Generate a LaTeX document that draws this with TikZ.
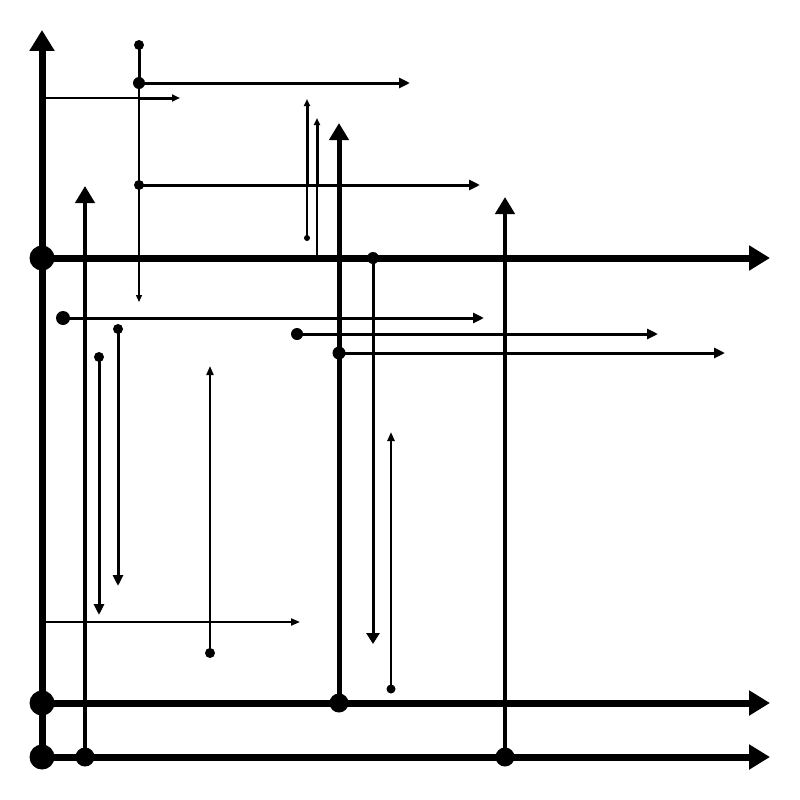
\documentclass[tikz,border=0pt]{standalone}
\usetikzlibrary{arrows.meta}
\begin{document}
\begin{tikzpicture}[x=1pt,y=-1pt,
  big/.style={line width=7pt,-{Triangle[length=21pt,width=24pt]}},
  mid/.style={line width=4.5pt,-{Triangle[length=17pt,width=19pt]}},
  sm/.style={line width=3pt,-{Triangle[length=11pt,width=10pt]}},
  xs/.style={line width=2pt,-{Triangle[length=9pt,width=7pt]}},
  tiny/.style={line width=1.4pt,-{Triangle[length=7pt,width=6pt]}},
  thick3/.style={line width=3pt},
  thinl/.style={line width=1.4pt},
  dot/.style={circle,fill=black,inner sep=0pt,minimum size=#1}]
\useasboundingbox (0,0) rectangle (800,800);
% big axes
\coordinate (ay) at (42,30);
\coordinate (h1e) at (770,258);
\coordinate (h2e) at (770,703);
\coordinate (h3e) at (770,757);
\draw[big] (42,757) coordinate (o) -- (ay);
\draw[big] (42,258) coordinate (h1s) -- (h1e);
\draw[big] (42,703) coordinate (h2s) -- (h2e);
\draw[big] (o) -- (h3e);
\node[dot=25pt] (d1) at (h1s) {};
\node[dot=25pt] (d2) at (h2s) {};
\node[dot=25pt] (d3) at (o) {};
% medium verticals
\node[dot=19pt] (d85) at (85,757) {};
\coordinate (e85) at (85,186);
\draw[mid] (d85.center) -- (e85);
\node[dot=19pt] (d339) at (339,703) {};
\coordinate (e339) at (339,123);
\draw[mid,line width=5pt] (d339.center) -- (e339);
\node[dot=19pt] (d505) at (505,757) {};
\coordinate (e505) at (505,197);
\draw[mid] (d505.center) -- (e505);
% x=139 group
\node[dot=10pt] (t139) at (139,45) {};
\node[dot=12pt] (m139) at (139,83) {};
\coordinate (b139) at (139,302);
\draw[thick3] (t139.center) -- (m139.center);
\draw[tiny] (m139.center) -- (b139);
\coordinate (e83) at (410,83);
\draw[sm] (m139.center) -- (e83);
\node[dot=10pt] (n185) at (139,185) {};
\coordinate (e185) at (480,185);
\draw[sm] (n185.center) -- (e185);
% y=98
\coordinate (s98) at (42,98);
\coordinate (j98) at (139,98);
\coordinate (e98) at (180,98);
\draw[thinl] (s98) -- (j98);
\draw[sm,-{Triangle[length=8pt,width=7pt]}] (j98) -- (e98);
% x=307, 317
\node[dot=6pt] (b307) at (307,238) {};
\coordinate (j307) at (307,185);
\coordinate (e307) at (307,99);
\draw[thinl] (b307.center) -- (j307);
\draw[thick3,-{Triangle[length=7pt,width=6pt]}] (j307) -- (e307);
\coordinate (b317) at (317,258);
\coordinate (j317) at (317,185);
\coordinate (e317) at (317,118);
\draw[thinl] (b317) -- (j317);
\draw[thick3,-{Triangle[length=7pt,width=6pt]}] (j317) -- (e317);
% horizontals mid
\node[dot=14pt] (n318) at (63,318) {};
\coordinate (e318) at (484,318);
\draw[sm] (n318.center) -- (e318);
\node[dot=12pt] (n334) at (297,334) {};
\coordinate (e334) at (658,334);
\draw[sm] (n334.center) -- (e334);
\node[dot=13pt] (n353) at (339,353) {};
\coordinate (e353) at (725,353);
\draw[sm] (n353.center) -- (e353);
% verticals small
\node[dot=12pt] (n373) at (373,258) {};
\coordinate (e373) at (373,644);
\draw[sm,-{Triangle[length=11pt,width=13pt]}] (n373.center) -- (e373);
\node[dot=9pt] (n391) at (391,689) {};
\coordinate (e391) at (391,432);
\draw[xs,line width=2.5pt] (n391.center) -- (e391);
\node[dot=10pt] (n118) at (118,329) {};
\coordinate (e118) at (118,586);
\draw[sm] (n118.center) -- (e118);
\node[dot=10pt] (n99) at (99,357) {};
\coordinate (e99) at (99,615);
\draw[sm] (n99.center) -- (e99);
\node[dot=10pt] (n210) at (210,653) {};
\coordinate (e210) at (210,366);
\draw[xs] (n210.center) -- (e210);
\node[dot=5pt] (n622) at (44,622) {};
\coordinate (e622) at (300,622);
\draw[xs] (n622.center) -- (e622);
\end{tikzpicture}
\end{document}
